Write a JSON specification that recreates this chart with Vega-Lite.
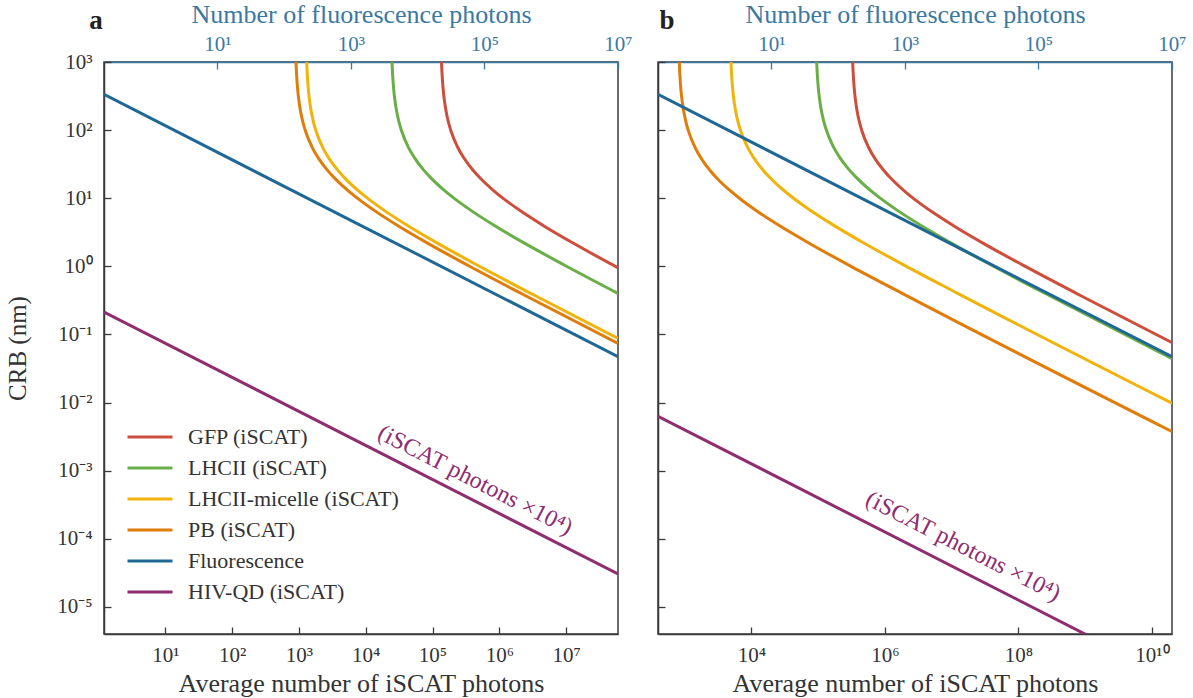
{
  "$schema": "https://vega.github.io/schema/vega-lite/v6.json",
  "background": "white",
  "padding": {"left": 4, "top": 0, "right": 0, "bottom": 0},
  "bounds": "flush",
  "spacing": 40,
  "datasets": {
    "curves_a": [
      {"series": "GFP (iSCAT)", "N": 1.3228e5, "CRB": 4860}, {"series": "GFP (iSCAT)", "N": 1.3387e5, "CRB": 1944}, {"series": "GFP (iSCAT)", "N": 1.3653e5, "CRB": 972}, {"series": "GFP (iSCAT)", "N": 1.3922e5, "CRB": 648}, {"series": "GFP (iSCAT)", "N": 1.4468e5, "CRB": 388.8}, {"series": "GFP (iSCAT)", "N": 1.5025e5, "CRB": 277.7}, {"series": "GFP (iSCAT)", "N": 1.5879e5, "CRB": 194.4}, {"series": "GFP (iSCAT)", "N": 1.7355e5, "CRB": 129.6}, {"series": "GFP (iSCAT)", "N": 1.8897e5, "CRB": 97.2}, {"series": "GFP (iSCAT)", "N": 2.3917e5, "CRB": 55.54}, {"series": "GFP (iSCAT)", "N": 2.9527e5, "CRB": 38.88}, {"series": "GFP (iSCAT)", "N": 4.0189e5, "CRB": 25.92}, {"series": "GFP (iSCAT)", "N": 5.2492e5, "CRB": 19.44}, {"series": "GFP (iSCAT)", "N": 8.2019e5, "CRB": 12.96}, {"series": "GFP (iSCAT)", "N": 1.1811e6, "CRB": 9.72}, {"series": "GFP (iSCAT)", "N": 2.0997e6, "CRB": 6.48}, {"series": "GFP (iSCAT)", "N": 4.7243e6, "CRB": 3.888}, {"series": "GFP (iSCAT)", "N": 1.3123e7, "CRB": 2.16}, {"series": "GFP (iSCAT)", "N": 5.2492e7, "CRB": 1.0232}, {"series": "GFP (iSCAT)", "N": 6e7, "CRB": 0.954},
      {"series": "LHCII (iSCAT)", "N": 2.3977e4, "CRB": 4930}, {"series": "LHCII (iSCAT)", "N": 2.4265e4, "CRB": 1972}, {"series": "LHCII (iSCAT)", "N": 2.4748e4, "CRB": 986}, {"series": "LHCII (iSCAT)", "N": 2.5236e4, "CRB": 657.3}, {"series": "LHCII (iSCAT)", "N": 2.6225e4, "CRB": 394.4}, {"series": "LHCII (iSCAT)", "N": 2.7234e4, "CRB": 281.7}, {"series": "LHCII (iSCAT)", "N": 2.8782e4, "CRB": 197.2}, {"series": "LHCII (iSCAT)", "N": 3.1458e4, "CRB": 131.5}, {"series": "LHCII (iSCAT)", "N": 3.4253e4, "CRB": 98.6}, {"series": "LHCII (iSCAT)", "N": 4.3352e4, "CRB": 56.34}, {"series": "LHCII (iSCAT)", "N": 5.3521e4, "CRB": 39.44}, {"series": "LHCII (iSCAT)", "N": 7.2848e4, "CRB": 26.29}, {"series": "LHCII (iSCAT)", "N": 9.5148e4, "CRB": 19.72}, {"series": "LHCII (iSCAT)", "N": 1.4867e5, "CRB": 13.15}, {"series": "LHCII (iSCAT)", "N": 2.1408e5, "CRB": 9.86}, {"series": "LHCII (iSCAT)", "N": 3.8059e5, "CRB": 6.573}, {"series": "LHCII (iSCAT)", "N": 8.5633e5, "CRB": 3.944}, {"series": "LHCII (iSCAT)", "N": 2.3787e6, "CRB": 2.191}, {"series": "LHCII (iSCAT)", "N": 9.5148e6, "CRB": 1.0379}, {"series": "LHCII (iSCAT)", "N": 6e7, "CRB": 0.4006},
      {"series": "LHCII-micelle (iSCAT)", "N": 1266.7, "CRB": 4768}, {"series": "LHCII-micelle (iSCAT)", "N": 1281.9, "CRB": 1907}, {"series": "LHCII-micelle (iSCAT)", "N": 1307.4, "CRB": 953.5}, {"series": "LHCII-micelle (iSCAT)", "N": 1333.1, "CRB": 635.7}, {"series": "LHCII-micelle (iSCAT)", "N": 1385.4, "CRB": 381.4}, {"series": "LHCII-micelle (iSCAT)", "N": 1438.7, "CRB": 272.4}, {"series": "LHCII-micelle (iSCAT)", "N": 1520.5, "CRB": 190.7}, {"series": "LHCII-micelle (iSCAT)", "N": 1661.9, "CRB": 127.1}, {"series": "LHCII-micelle (iSCAT)", "N": 1809.5, "CRB": 95.35}, {"series": "LHCII-micelle (iSCAT)", "N": 2290.2, "CRB": 54.49}, {"series": "LHCII-micelle (iSCAT)", "N": 2827.4, "CRB": 38.14}, {"series": "LHCII-micelle (iSCAT)", "N": 3848.3, "CRB": 25.43}, {"series": "LHCII-micelle (iSCAT)", "N": 5026.4, "CRB": 19.07}, {"series": "LHCII-micelle (iSCAT)", "N": 7853.8, "CRB": 12.71}, {"series": "LHCII-micelle (iSCAT)", "N": 1.1309e4, "CRB": 9.535}, {"series": "LHCII-micelle (iSCAT)", "N": 2.0106e4, "CRB": 6.357}, {"series": "LHCII-micelle (iSCAT)", "N": 4.5238e4, "CRB": 3.814}, {"series": "LHCII-micelle (iSCAT)", "N": 1.2566e5, "CRB": 2.119}, {"series": "LHCII-micelle (iSCAT)", "N": 5.0264e5, "CRB": 1.0037}, {"series": "LHCII-micelle (iSCAT)", "N": 3.1415e6, "CRB": 0.3892}, {"series": "LHCII-micelle (iSCAT)", "N": 6e7, "CRB": 0.08767},
      {"series": "PB (iSCAT)", "N": 874.8, "CRB": 4848}, {"series": "PB (iSCAT)", "N": 885.3, "CRB": 1939}, {"series": "PB (iSCAT)", "N": 903.0, "CRB": 969.5}, {"series": "PB (iSCAT)", "N": 920.8, "CRB": 646.3}, {"series": "PB (iSCAT)", "N": 956.9, "CRB": 387.8}, {"series": "PB (iSCAT)", "N": 993.7, "CRB": 277.0}, {"series": "PB (iSCAT)", "N": 1050.2, "CRB": 193.9}, {"series": "PB (iSCAT)", "N": 1147.8, "CRB": 129.3}, {"series": "PB (iSCAT)", "N": 1249.8, "CRB": 96.95}, {"series": "PB (iSCAT)", "N": 1581.7, "CRB": 55.4}, {"series": "PB (iSCAT)", "N": 1952.8, "CRB": 38.78}, {"series": "PB (iSCAT)", "N": 2657.9, "CRB": 25.85}, {"series": "PB (iSCAT)", "N": 3471.6, "CRB": 19.39}, {"series": "PB (iSCAT)", "N": 5424.4, "CRB": 12.93}, {"series": "PB (iSCAT)", "N": 7811.1, "CRB": 9.695}, {"series": "PB (iSCAT)", "N": 1.3886e4, "CRB": 6.463}, {"series": "PB (iSCAT)", "N": 3.1244e4, "CRB": 3.878}, {"series": "PB (iSCAT)", "N": 8.679e4, "CRB": 2.154}, {"series": "PB (iSCAT)", "N": 3.4716e5, "CRB": 1.0205}, {"series": "PB (iSCAT)", "N": 2.1698e6, "CRB": 0.3957}, {"series": "PB (iSCAT)", "N": 6e7, "CRB": 0.07405}
    ],
    "curves_b": [
      {"series": "GFP (iSCAT)", "N": 3.2023e5, "CRB": 4735}, {"series": "GFP (iSCAT)", "N": 3.2407e5, "CRB": 1894}, {"series": "GFP (iSCAT)", "N": 3.3051e5, "CRB": 947}, {"series": "GFP (iSCAT)", "N": 3.3703e5, "CRB": 631.3}, {"series": "GFP (iSCAT)", "N": 3.5024e5, "CRB": 378.8}, {"series": "GFP (iSCAT)", "N": 3.6371e5, "CRB": 270.6}, {"series": "GFP (iSCAT)", "N": 3.8439e5, "CRB": 189.4}, {"series": "GFP (iSCAT)", "N": 4.2013e5, "CRB": 126.3}, {"series": "GFP (iSCAT)", "N": 4.5746e5, "CRB": 94.7}, {"series": "GFP (iSCAT)", "N": 5.7897e5, "CRB": 54.11}, {"series": "GFP (iSCAT)", "N": 7.1478e5, "CRB": 37.88}, {"series": "GFP (iSCAT)", "N": 9.729e5, "CRB": 25.25}, {"series": "GFP (iSCAT)", "N": 1.2707e6, "CRB": 18.94}, {"series": "GFP (iSCAT)", "N": 1.9855e6, "CRB": 12.63}, {"series": "GFP (iSCAT)", "N": 2.8591e6, "CRB": 9.47}, {"series": "GFP (iSCAT)", "N": 5.0829e6, "CRB": 6.313}, {"series": "GFP (iSCAT)", "N": 1.1436e7, "CRB": 3.788}, {"series": "GFP (iSCAT)", "N": 3.1768e7, "CRB": 2.104}, {"series": "GFP (iSCAT)", "N": 1.2707e8, "CRB": 0.9968}, {"series": "GFP (iSCAT)", "N": 7.942e8, "CRB": 0.3865}, {"series": "GFP (iSCAT)", "N": 2e10, "CRB": 0.0758},
      {"series": "LHCII (iSCAT)", "N": 9.2246e4, "CRB": 5143}, {"series": "LHCII (iSCAT)", "N": 9.3351e4, "CRB": 2057}, {"series": "LHCII (iSCAT)", "N": 9.5209e4, "CRB": 1028.5}, {"series": "LHCII (iSCAT)", "N": 9.7085e4, "CRB": 685.7}, {"series": "LHCII (iSCAT)", "N": 1.0089e5, "CRB": 411.4}, {"series": "LHCII (iSCAT)", "N": 1.0477e5, "CRB": 293.9}, {"series": "LHCII (iSCAT)", "N": 1.1073e5, "CRB": 205.7}, {"series": "LHCII (iSCAT)", "N": 1.2102e5, "CRB": 137.1}, {"series": "LHCII (iSCAT)", "N": 1.3178e5, "CRB": 102.9}, {"series": "LHCII (iSCAT)", "N": 1.6678e5, "CRB": 58.77}, {"series": "LHCII (iSCAT)", "N": 2.059e5, "CRB": 41.14}, {"series": "LHCII (iSCAT)", "N": 2.8025e5, "CRB": 27.43}, {"series": "LHCII (iSCAT)", "N": 3.6605e5, "CRB": 20.57}, {"series": "LHCII (iSCAT)", "N": 5.7195e5, "CRB": 13.71}, {"series": "LHCII (iSCAT)", "N": 8.2361e5, "CRB": 10.285}, {"series": "LHCII (iSCAT)", "N": 1.4642e6, "CRB": 6.857}, {"series": "LHCII (iSCAT)", "N": 3.2944e6, "CRB": 4.114}, {"series": "LHCII (iSCAT)", "N": 9.1512e6, "CRB": 2.286}, {"series": "LHCII (iSCAT)", "N": 3.6605e7, "CRB": 1.0826}, {"series": "LHCII (iSCAT)", "N": 2.2878e8, "CRB": 0.4198}, {"series": "LHCII (iSCAT)", "N": 2e10, "CRB": 0.0441},
      {"series": "LHCII-micelle (iSCAT)", "N": 4806.8, "CRB": 4995}, {"series": "LHCII-micelle (iSCAT)", "N": 4864.5, "CRB": 1998}, {"series": "LHCII-micelle (iSCAT)", "N": 4961.3, "CRB": 999}, {"series": "LHCII-micelle (iSCAT)", "N": 5059.0, "CRB": 666}, {"series": "LHCII-micelle (iSCAT)", "N": 5257.4, "CRB": 399.6}, {"series": "LHCII-micelle (iSCAT)", "N": 5459.6, "CRB": 285.4}, {"series": "LHCII-micelle (iSCAT)", "N": 5770.0, "CRB": 199.8}, {"series": "LHCII-micelle (iSCAT)", "N": 6306.5, "CRB": 133.2}, {"series": "LHCII-micelle (iSCAT)", "N": 6866.8, "CRB": 99.9}, {"series": "LHCII-micelle (iSCAT)", "N": 8690.8, "CRB": 57.09}, {"series": "LHCII-micelle (iSCAT)", "N": 1.0729e4, "CRB": 39.96}, {"series": "LHCII-micelle (iSCAT)", "N": 1.4604e4, "CRB": 26.64}, {"series": "LHCII-micelle (iSCAT)", "N": 1.9074e4, "CRB": 19.98}, {"series": "LHCII-micelle (iSCAT)", "N": 2.9804e4, "CRB": 13.32}, {"series": "LHCII-micelle (iSCAT)", "N": 4.2917e4, "CRB": 9.99}, {"series": "LHCII-micelle (iSCAT)", "N": 7.6298e4, "CRB": 6.66}, {"series": "LHCII-micelle (iSCAT)", "N": 1.7167e5, "CRB": 3.996}, {"series": "LHCII-micelle (iSCAT)", "N": 4.7686e5, "CRB": 2.22}, {"series": "LHCII-micelle (iSCAT)", "N": 1.9074e6, "CRB": 1.0516}, {"series": "LHCII-micelle (iSCAT)", "N": 1.1922e7, "CRB": 0.4078}, {"series": "LHCII-micelle (iSCAT)", "N": 2e10, "CRB": 0.00976},
      {"series": "PB (iSCAT)", "N": 810.0, "CRB": 4675}, {"series": "PB (iSCAT)", "N": 819.7, "CRB": 1870}, {"series": "PB (iSCAT)", "N": 836.0, "CRB": 935}, {"series": "PB (iSCAT)", "N": 852.5, "CRB": 623.3}, {"series": "PB (iSCAT)", "N": 885.9, "CRB": 374}, {"series": "PB (iSCAT)", "N": 920.0, "CRB": 267.1}, {"series": "PB (iSCAT)", "N": 972.3, "CRB": 187}, {"series": "PB (iSCAT)", "N": 1062.7, "CRB": 124.7}, {"series": "PB (iSCAT)", "N": 1157.1, "CRB": 93.5}, {"series": "PB (iSCAT)", "N": 1464.5, "CRB": 53.43}, {"series": "PB (iSCAT)", "N": 1808.0, "CRB": 37.4}, {"series": "PB (iSCAT)", "N": 2460.9, "CRB": 24.93}, {"series": "PB (iSCAT)", "N": 3214.2, "CRB": 18.7}, {"series": "PB (iSCAT)", "N": 5022.2, "CRB": 12.47}, {"series": "PB (iSCAT)", "N": 7232.0, "CRB": 9.35}, {"series": "PB (iSCAT)", "N": 1.2857e4, "CRB": 6.233}, {"series": "PB (iSCAT)", "N": 2.8928e4, "CRB": 3.74}, {"series": "PB (iSCAT)", "N": 8.0355e4, "CRB": 2.078}, {"series": "PB (iSCAT)", "N": 3.2142e5, "CRB": 0.9842}, {"series": "PB (iSCAT)", "N": 2.0089e6, "CRB": 0.3816}, {"series": "PB (iSCAT)", "N": 2e10, "CRB": 0.00375}
    ],
    "fluor": [
      {"series": "Fluorescence", "F": 0.2, "CRB": 334},
      {"series": "Fluorescence", "F": 1e7, "CRB": 0.0472}
    ],
    "hiv_a": [
      {"series": "HIV-QD (iSCAT)", "N": 1.2, "CRB": 0.213},
      {"series": "HIV-QD (iSCAT)", "N": 6e7, "CRB": 3.04e-5}
    ],
    "hiv_b": [
      {"series": "HIV-QD (iSCAT)", "N": 400, "CRB": 6.3e-3},
      {"series": "HIV-QD (iSCAT)", "N": 2e10, "CRB": 8.9e-7}
    ],
    "note_a": [{"N": 4.33e5, "CRB": 7.2e-4, "text": "(iSCAT photons ×10⁴)"}],
    "note_b": [{"N": 1.48e7, "CRB": 7.7e-5, "text": "(iSCAT photons ×10⁴)"}],
    "label_a": [{"N": 1.2, "CRB": 1000, "text": "a"}],
    "label_b": [{"N": 400, "CRB": 1000, "text": "b"}]
  },
  "hconcat": [
    {
      "width": 514,
      "height": 572,
      "layer": [
        {
          "layer": [
            {
              "data": {"name": "curves_a"},
              "mark": {"type": "line", "clip": true, "strokeWidth": 3, "interpolate": "monotone"},
              "encoding": {
                "x": {"field": "N", "type": "quantitative", "scale": {"type": "log", "domain": [1.2, 6e7], "nice": false},
                  "axis": {"title": "Average number of iSCAT photons", "values": [10, 100, 1000, 10000, 100000, 1000000, 10000000],
                    "labelExpr": "'10' + (datum.value < 1 ? '⁻' : '') + (abs(round(log(datum.value)/LN10)) >= 10 ? '¹' : '') + slice('⁰¹²³⁴⁵⁶⁷⁸⁹', abs(round(log(datum.value)/LN10)) % 10, abs(round(log(datum.value)/LN10)) % 10 + 1)"}},
                "y": {"field": "CRB", "type": "quantitative", "scale": {"type": "log", "domain": [4e-6, 1000], "nice": false},
                  "axis": {"title": "CRB (nm)", "titleFontSize": 25, "values": [1e-5, 1e-4, 1e-3, 1e-2, 1e-1, 1, 10, 100, 1000], "labelPadding": 19, "titlePadding": 26,
                    "labelExpr": "'10' + (datum.value < 1 ? '⁻' : '') + (abs(round(log(datum.value)/LN10)) >= 10 ? '¹' : '') + slice('⁰¹²³⁴⁵⁶⁷⁸⁹', abs(round(log(datum.value)/LN10)) % 10, abs(round(log(datum.value)/LN10)) % 10 + 1)"}},
                "color": {"field": "series", "type": "nominal",
                  "scale": {"domain": ["GFP (iSCAT)", "LHCII (iSCAT)", "LHCII-micelle (iSCAT)", "PB (iSCAT)", "Fluorescence", "HIV-QD (iSCAT)"], "range": ["#cc4e3c", "#6aae47", "#f0b30c", "#e07c0a", "#1f6896", "#8e2d6f"]},
                  "legend": {"title": null, "orient": "none", "legendX": 22, "legendY": 364, "padding": 0, "symbolType": "stroke", "symbolSize": 2025, "symbolStrokeWidth": 3, "labelFontSize": 22, "labelFont": "Liberation Serif", "labelColor": "#333333", "labelOffset": 14, "labelLimit": 400, "clipHeight": 22, "rowPadding": 9}}
              }
            },
            {
              "data": {"name": "hiv_a"},
              "mark": {"type": "line", "clip": true, "strokeWidth": 3},
              "encoding": {
                "x": {"field": "N", "type": "quantitative", "scale": {"type": "log", "domain": [1.2, 6e7], "nice": false}},
                "y": {"field": "CRB", "type": "quantitative", "scale": {"type": "log", "domain": [4e-6, 1000], "nice": false}},
                "color": {"field": "series", "type": "nominal", "scale": {"domain": ["GFP (iSCAT)", "LHCII (iSCAT)", "LHCII-micelle (iSCAT)", "PB (iSCAT)", "Fluorescence", "HIV-QD (iSCAT)"], "range": ["#cc4e3c", "#6aae47", "#f0b30c", "#e07c0a", "#1f6896", "#8e2d6f"]}}
              }
            },
            {
              "data": {"name": "note_a"},
              "mark": {"type": "text", "angle": 27, "fontSize": 24, "font": "Liberation Serif", "color": "#8e2d6f", "align": "center", "baseline": "middle"},
              "encoding": {
                "x": {"field": "N", "type": "quantitative", "scale": {"type": "log", "domain": [1.2, 6e7], "nice": false}},
                "y": {"field": "CRB", "type": "quantitative", "scale": {"type": "log", "domain": [4e-6, 1000], "nice": false}},
                "text": {"field": "text"}
              }
            },
            {
              "data": {"name": "label_a"},
              "mark": {"type": "text", "fontSize": 27, "fontWeight": "bold", "font": "Liberation Serif", "color": "#222222", "align": "center", "baseline": "alphabetic", "dx": -8, "dy": -33},
              "encoding": {
                "x": {"field": "N", "type": "quantitative", "scale": {"type": "log", "domain": [1.2, 6e7], "nice": false}},
                "y": {"field": "CRB", "type": "quantitative", "scale": {"type": "log", "domain": [4e-6, 1000], "nice": false}},
                "text": {"field": "text"}
              }
            }
          ]
        },
        {
          "data": {"name": "fluor"},
          "mark": {"type": "line", "clip": true, "strokeWidth": 3},
          "encoding": {
            "x": {"field": "F", "type": "quantitative", "scale": {"type": "log", "domain": [0.2, 1e7], "nice": false},
              "axis": {"orient": "top", "title": "Number of fluorescence photons", "values": [10, 1000, 100000, 10000000],
                "labelColor": "#3b79a3", "titleColor": "#3b79a3", "domainColor": "#3b79a3", "tickColor": "#3b79a3", "labelPadding": 15, "titlePadding": 6,
                "labelExpr": "'10' + slice('⁰¹²³⁴⁵⁶⁷⁸⁹', round(log(datum.value)/LN10), round(log(datum.value)/LN10) + 1)"}},
            "y": {"field": "CRB", "type": "quantitative", "scale": {"type": "log", "domain": [4e-6, 1000], "nice": false}},
            "color": {"field": "series", "type": "nominal", "scale": {"domain": ["GFP (iSCAT)", "LHCII (iSCAT)", "LHCII-micelle (iSCAT)", "PB (iSCAT)", "Fluorescence", "HIV-QD (iSCAT)"], "range": ["#cc4e3c", "#6aae47", "#f0b30c", "#e07c0a", "#1f6896", "#8e2d6f"]}}
          }
        }
      ],
      "resolve": {"scale": {"x": "independent"}}
    },
    {
      "width": 514,
      "height": 572,
      "layer": [
        {
          "layer": [
            {
              "data": {"name": "curves_b"},
              "mark": {"type": "line", "clip": true, "strokeWidth": 3, "interpolate": "monotone"},
              "encoding": {
                "x": {"field": "N", "type": "quantitative", "scale": {"type": "log", "domain": [400, 2e10], "nice": false},
                  "axis": {"title": "Average number of iSCAT photons", "values": [10000, 1000000, 100000000, 10000000000],
                    "labelExpr": "'10' + (abs(round(log(datum.value)/LN10)) >= 10 ? '¹' : '') + slice('⁰¹²³⁴⁵⁶⁷⁸⁹', abs(round(log(datum.value)/LN10)) % 10, abs(round(log(datum.value)/LN10)) % 10 + 1)"}},
                "y": {"field": "CRB", "type": "quantitative", "scale": {"type": "log", "domain": [4e-6, 1000], "nice": false},
                  "axis": {"title": null, "labels": false, "values": [1e-5, 1e-4, 1e-3, 1e-2, 1e-1, 1, 10, 100, 1000]}},
                "color": {"field": "series", "type": "nominal", "legend": null,
                  "scale": {"domain": ["GFP (iSCAT)", "LHCII (iSCAT)", "LHCII-micelle (iSCAT)", "PB (iSCAT)", "Fluorescence", "HIV-QD (iSCAT)"], "range": ["#cc4e3c", "#6aae47", "#f0b30c", "#e07c0a", "#1f6896", "#8e2d6f"]}}
              }
            },
            {
              "data": {"name": "hiv_b"},
              "mark": {"type": "line", "clip": true, "strokeWidth": 3},
              "encoding": {
                "x": {"field": "N", "type": "quantitative", "scale": {"type": "log", "domain": [400, 2e10], "nice": false}},
                "y": {"field": "CRB", "type": "quantitative", "scale": {"type": "log", "domain": [4e-6, 1000], "nice": false}},
                "color": {"field": "series", "type": "nominal", "legend": null, "scale": {"domain": ["GFP (iSCAT)", "LHCII (iSCAT)", "LHCII-micelle (iSCAT)", "PB (iSCAT)", "Fluorescence", "HIV-QD (iSCAT)"], "range": ["#cc4e3c", "#6aae47", "#f0b30c", "#e07c0a", "#1f6896", "#8e2d6f"]}}
              }
            },
            {
              "data": {"name": "note_b"},
              "mark": {"type": "text", "angle": 27, "fontSize": 24, "font": "Liberation Serif", "color": "#8e2d6f", "align": "center", "baseline": "middle"},
              "encoding": {
                "x": {"field": "N", "type": "quantitative", "scale": {"type": "log", "domain": [400, 2e10], "nice": false}},
                "y": {"field": "CRB", "type": "quantitative", "scale": {"type": "log", "domain": [4e-6, 1000], "nice": false}},
                "text": {"field": "text"}
              }
            },
            {
              "data": {"name": "label_b"},
              "mark": {"type": "text", "fontSize": 27, "fontWeight": "bold", "font": "Liberation Serif", "color": "#222222", "align": "center", "baseline": "alphabetic", "dx": 9, "dy": -33},
              "encoding": {
                "x": {"field": "N", "type": "quantitative", "scale": {"type": "log", "domain": [400, 2e10], "nice": false}},
                "y": {"field": "CRB", "type": "quantitative", "scale": {"type": "log", "domain": [4e-6, 1000], "nice": false}},
                "text": {"field": "text"}
              }
            }
          ]
        },
        {
          "data": {"name": "fluor"},
          "mark": {"type": "line", "clip": true, "strokeWidth": 3},
          "encoding": {
            "x": {"field": "F", "type": "quantitative", "scale": {"type": "log", "domain": [0.2, 1e7], "nice": false},
              "axis": {"orient": "top", "title": "Number of fluorescence photons", "values": [10, 1000, 100000, 10000000],
                "labelColor": "#3b79a3", "titleColor": "#3b79a3", "domainColor": "#3b79a3", "tickColor": "#3b79a3", "labelPadding": 15, "titlePadding": 6,
                "labelExpr": "'10' + slice('⁰¹²³⁴⁵⁶⁷⁸⁹', round(log(datum.value)/LN10), round(log(datum.value)/LN10) + 1)"}},
            "y": {"field": "CRB", "type": "quantitative", "scale": {"type": "log", "domain": [4e-6, 1000], "nice": false}},
            "color": {"field": "series", "type": "nominal", "legend": null, "scale": {"domain": ["GFP (iSCAT)", "LHCII (iSCAT)", "LHCII-micelle (iSCAT)", "PB (iSCAT)", "Fluorescence", "HIV-QD (iSCAT)"], "range": ["#cc4e3c", "#6aae47", "#f0b30c", "#e07c0a", "#1f6896", "#8e2d6f"]}}
          }
        }
      ],
      "resolve": {"scale": {"x": "independent"}}
    }
  ],
  "resolve": {"scale": {"color": "independent"}},
  "config": {
    "font": "Liberation Serif",
    "view": {"stroke": "#3a3a3a", "strokeWidth": 1.5},
    "axis": {
      "grid": false,
      "labelFont": "Liberation Serif",
      "titleFont": "Liberation Serif",
      "labelFontSize": 21,
      "titleFontSize": 26,
      "titleFontWeight": "normal",
      "labelColor": "#333333",
      "titleColor": "#333333",
      "domainColor": "#3a3a3a",
      "domainWidth": 1.5,
      "tickColor": "#3a3a3a",
      "tickWidth": 1.3,
      "tickSize": -7,
      "labelPadding": 17,
      "titlePadding": 5,
      "labelFlush": false,
      "labelOverlap": false
    }
  }
}
